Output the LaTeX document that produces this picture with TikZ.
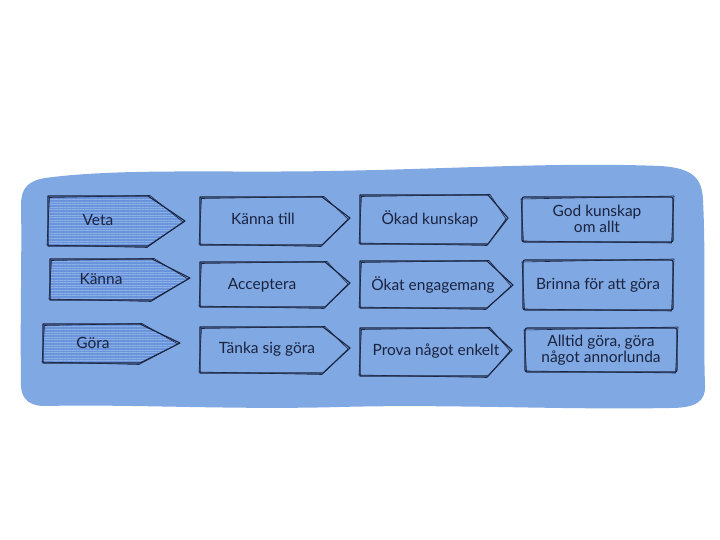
\documentclass[tikz,border=0pt]{standalone}
\usepackage{fontspec}
\setmainfont{Lato}
\usetikzlibrary{patterns.meta}
\definecolor{bgblue}{HTML}{80A8E2}
\definecolor{darkfill}{HTML}{6993DB}
\definecolor{hatch}{HTML}{8DB2E8}
\definecolor{ink}{HTML}{1A2340}
\tikzset{
  ink/.style={draw=ink, line width=1.1pt, line join=round},
  inkthin/.style={draw=ink, line width=0.6pt, line join=round},
  lbl/.style={font=\fontsize{15.5}{16.5}\selectfont, text=ink, align=center, inner sep=0pt},
  hatched/.style={fill=darkfill},
  hatchlines/.style={pattern={Lines[angle=0,distance=2.6pt,line width=0.6pt]}, pattern color=hatch},
}
% #1 left x, #2 top y, #3 rect end x, #4 tip x, #5 bottom y, #6 tip y
\newcommand\pentout[6]{%
  \draw[ink] (#1,#2) -- (#3,#2) -- (#4,#6) -- (#3,#5) -- (#1,#5) -- cycle;
  \draw[inkthin] (#1+1.5,#2+1.5) -- (#3+2,#2-0.5) -- (#4-2,#6+1) -- (#3-1,#5+1.5) -- (#1-1,#5-1) -- cycle;
}
\newcommand\pentfill[6]{%
  \fill[hatched] (#1,#2) -- (#3,#2) -- (#4,#6) -- (#3,#5) -- (#1,#5) -- cycle;
  \fill[hatchlines] (#1,#2) -- (#3,#2) -- (#4,#6) -- (#3,#5) -- (#1,#5) -- cycle;
  \pentout{#1}{#2}{#3}{#4}{#5}{#6}
}
\newcommand\rectout[4]{%
  \draw[ink, rounded corners=2pt] (#1,#2) rectangle (#3,#4);
  \draw[inkthin] (#1-1,#2+2) -- (#3+1,#2-1) -- (#3-1.5,#4+1) -- (#1+1.5,#4-1) -- cycle;
}
\begin{document}
\begin{tikzpicture}[x=1pt,y=-1pt]
\useasboundingbox (0,0) rectangle (720,540);
% background blob
\fill[bgblue] (45,178) .. controls (120,168) and (220,173) .. (330,171)
  .. controls (450,169) and (560,162) .. (660,166)
  .. controls (695,168) and (702,180) .. (703,200)
  .. controls (706,260) and (703,330) .. (705,385)
  .. controls (706,402) and (695,408) .. (670,408)
  .. controls (560,410) and (450,404) .. (340,407)
  .. controls (230,410) and (130,404) .. (45,406)
  .. controls (25,406) and (20,395) .. (21,380)
  .. controls (20,320) and (22,250) .. (21,205)
  .. controls (21,188) and (28,181) .. (45,178) -- cycle;

% column 1
\pentfill{48}{196}{148}{185}{246}{221}
\node[lbl] (veta) at (98,220) {Veta};
\pentfill{50}{259}{152}{190}{300}{278}
\node[lbl] (kanna) at (101,279) {Känna};
\pentfill{43}{324}{140}{180}{363}{343}
\node[lbl] (gora) at (93,343) {Göra};

% column 2
\pentout{200}{197}{322}{350}{245}{218}
\node[lbl] (kannatill) at (263,219) {Känna till};
\pentout{200}{262}{325}{350}{307}{283}
\node[lbl] (acceptera) at (262,285) {Acceptera};
\pentout{200}{327}{323}{350}{373}{348}
\node[lbl] (tanka) at (267,349) {Tänka sig göra};

% column 3
\pentout{360}{195}{488}{508}{244}{218}
\node[lbl] (okadkunskap) at (430,219) {Ökad kunskap};
\pentout{360}{261}{487}{513}{308}{285}
\node[lbl] (okatengagemang) at (433,285) {Ökat engagemang};
\pentout{360}{328}{488}{512}{376}{350}
\node[lbl] (prova) at (436,351) {Prova något enkelt};

% column 4
\rectout{522}{197}{673}{242}
\node[lbl] (godkunskap) at (597,219) {God kunskap\\om allt};
\rectout{523}{260}{673}{310}
\node[lbl] (brinna) at (598,285) {Brinna för att göra};
\rectout{525}{328}{677}{372}
\node[lbl] (alltid) at (601,350) {Alltid göra, göra\\något annorlunda};
\end{tikzpicture}
\end{document}
